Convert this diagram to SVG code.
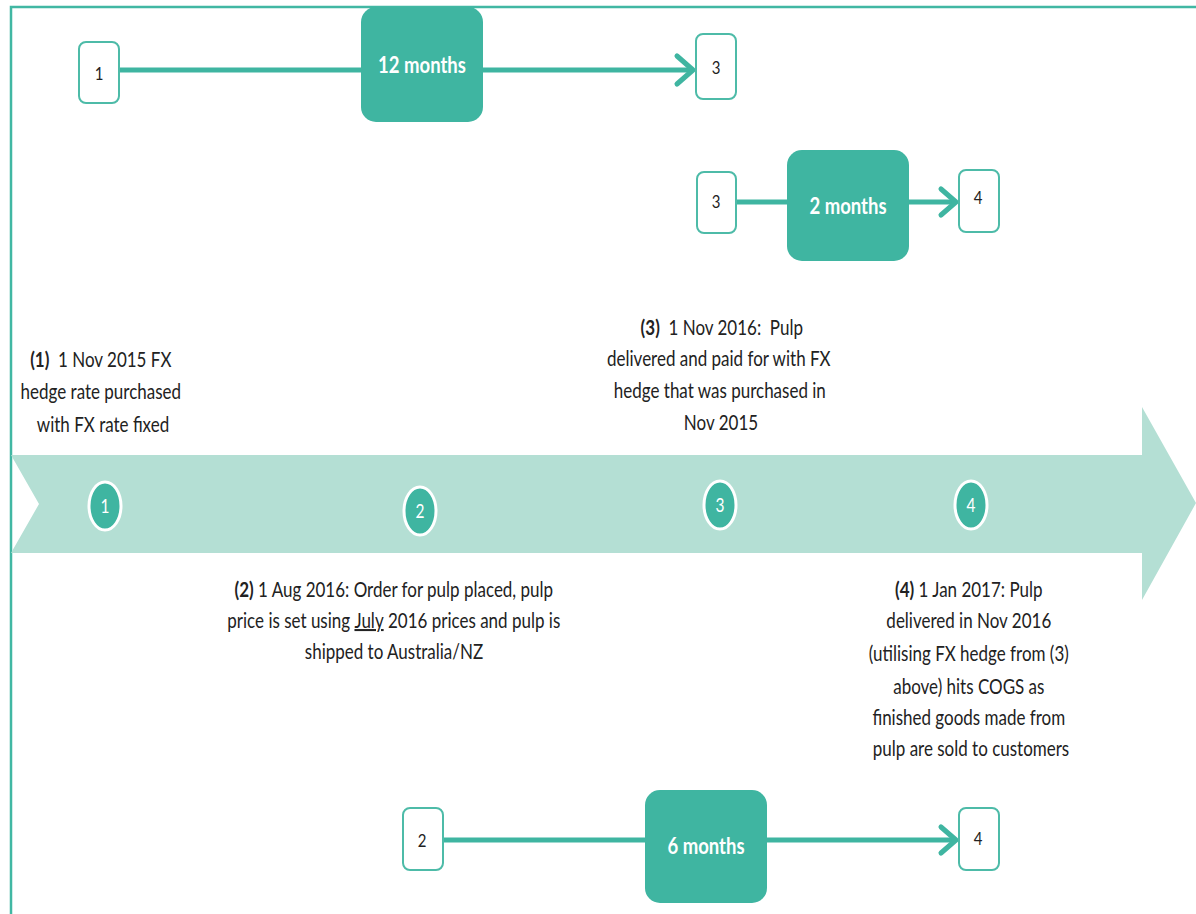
<svg xmlns="http://www.w3.org/2000/svg" width="1196" height="914" viewBox="0 0 1196 914">
<style>
.frame{stroke:#41b7a3;stroke-width:2.5;fill:none}
.band{fill:#b4dfd4}
.box{fill:#fff;stroke:#4dbba8;stroke-width:2}
.mbox{fill:#3fb5a1}
.conn{stroke:#3fb5a1;stroke-width:5;fill:none}
.head{stroke:#3fb5a1;stroke-width:5;fill:none;stroke-linecap:round;stroke-linejoin:round}
.dot{fill:#3fb5a1;stroke:#fff;stroke-width:3}
.t{font-family:Lato,"Liberation Sans",sans-serif;font-size:17px;fill:#222;text-anchor:middle}
.b{font-weight:bold}
.num{font-family:Lato,"Liberation Sans",sans-serif;font-size:15px;fill:#222;text-anchor:middle}
.wnum{font-family:Lato,"Liberation Sans",sans-serif;font-size:15.5px;fill:#fff;text-anchor:middle}
.m{font-family:Lato,"Liberation Sans",sans-serif;font-size:18.5px;font-weight:bold;fill:#fff;text-anchor:middle}
</style>
<rect width="1196" height="914" fill="#fff"/>
<path class="frame" d="M11,914 V7 H1196"/>
<polygon class="band" points="11,455 1142,455 1142,407 1196,503 1142,600 1142,553 11,553 39,504"/>

<g id="connectors">
  <line class="conn" x1="119" y1="70" x2="692" y2="70"/>
  <path class="head" d="M677,56 L693,70 L677,84"/>
  <line class="conn" x1="736" y1="202" x2="955" y2="202"/>
  <path class="head" d="M941,189 L956,202 L941,215"/>
  <line class="conn" x1="443" y1="840" x2="955" y2="840"/>
  <path class="head" d="M941,827 L956,840 L941,853"/>
</g>

<g id="node-top-1"><rect class="box" x="79" y="42" width="40" height="61" rx="7"/><text class="num" transform="scale(1,1.2)" x="99" y="66.7">1</text></g>
<g id="node-12months"><rect class="mbox" x="361" y="7" width="122" height="115" rx="15"/><text class="m" transform="scale(1,1.25)" x="422" y="58.4">12 months</text></g>
<g id="node-top-3"><rect class="box" x="696" y="34" width="40" height="65" rx="7"/><text class="num" transform="scale(1,1.2)" x="716" y="61.7">3</text></g>

<g id="node-mid-3"><rect class="box" x="697" y="172" width="39" height="61" rx="7"/><text class="num" transform="scale(1,1.2)" x="716" y="173.3">3</text></g>
<g id="node-2months"><rect class="mbox" x="787" y="150" width="122" height="111" rx="15"/><text class="m" transform="scale(1,1.25)" x="848" y="171.2">2 months</text></g>
<g id="node-mid-4"><rect class="box" x="959" y="170" width="40" height="62" rx="7"/><text class="num" transform="scale(1,1.2)" x="978" y="170">4</text></g>

<g id="node-bot-2"><rect class="box" x="403" y="808" width="40" height="62" rx="7"/><text class="num" transform="scale(1,1.2)" x="422" y="705.8">2</text></g>
<g id="node-6months"><rect class="mbox" x="645" y="790" width="122" height="113" rx="15"/><text class="m" transform="scale(1,1.25)" x="706" y="683.2">6 months</text></g>
<g id="node-bot-4"><rect class="box" x="959" y="808" width="40" height="62" rx="7"/><text class="num" transform="scale(1,1.2)" x="978" y="704.2">4</text></g>

<g id="milestone-1"><ellipse class="dot" cx="105" cy="506" rx="16" ry="24"/><text class="wnum" transform="scale(1,1.2)" x="105" y="427.5">1</text></g>
<g id="milestone-2"><ellipse class="dot" cx="420" cy="511" rx="16" ry="24"/><text class="wnum" transform="scale(1,1.2)" x="420" y="431.7">2</text></g>
<g id="milestone-3"><ellipse class="dot" cx="720" cy="505" rx="16" ry="24"/><text class="wnum" transform="scale(1,1.2)" x="720" y="426.7">3</text></g>
<g id="milestone-4"><ellipse class="dot" cx="971" cy="505" rx="16" ry="24"/><text class="wnum" transform="scale(1,1.2)" x="971" y="426.7">4</text></g>

<g id="label-1"><text class="t" transform="scale(1,1.2)">
<tspan x="103" y="305.8"><tspan class="b">(1)</tspan>&#160; 1 Nov 2015 FX</tspan>
<tspan x="103" y="332.5">hedge rate purchased</tspan>
<tspan x="103" y="360">with FX rate fixed</tspan></text></g>

<g id="label-3"><text class="t" transform="scale(1,1.2)">
<tspan x="724" y="279.2"><tspan class="b">(3)</tspan>&#160; 1 Nov 2016:&#160; Pulp</tspan>
<tspan x="721" y="305">delivered and paid for with FX</tspan>
<tspan x="722" y="331.7">hedge that was purchased in</tspan>
<tspan x="721" y="358.3">Nov 2015</tspan></text></g>

<g id="label-2"><text class="t" transform="scale(1,1.2)">
<tspan x="396" y="497.5"><tspan class="b">(2)</tspan> 1 Aug 2016: Order for pulp placed, pulp</tspan>
<tspan x="396" y="523.3">price is set using <tspan text-decoration="underline">July</tspan> 2016 prices and pulp is</tspan>
<tspan x="394" y="549.2">shipped to Australia/NZ</tspan></text></g>

<g id="label-4"><text class="t" transform="scale(1,1.2)">
<tspan x="971" y="497.5"><tspan class="b">(4)</tspan> 1 Jan 2017: Pulp</tspan>
<tspan x="971" y="523.3">delivered in Nov 2016</tspan>
<tspan x="971" y="550.8">(utilising FX hedge from (3)</tspan>
<tspan x="971" y="578.3">above) hits COGS as</tspan>
<tspan x="971" y="604.2">finished goods made from</tspan>
<tspan x="971" y="630">pulp are sold to customers</tspan></text></g>
</svg>
